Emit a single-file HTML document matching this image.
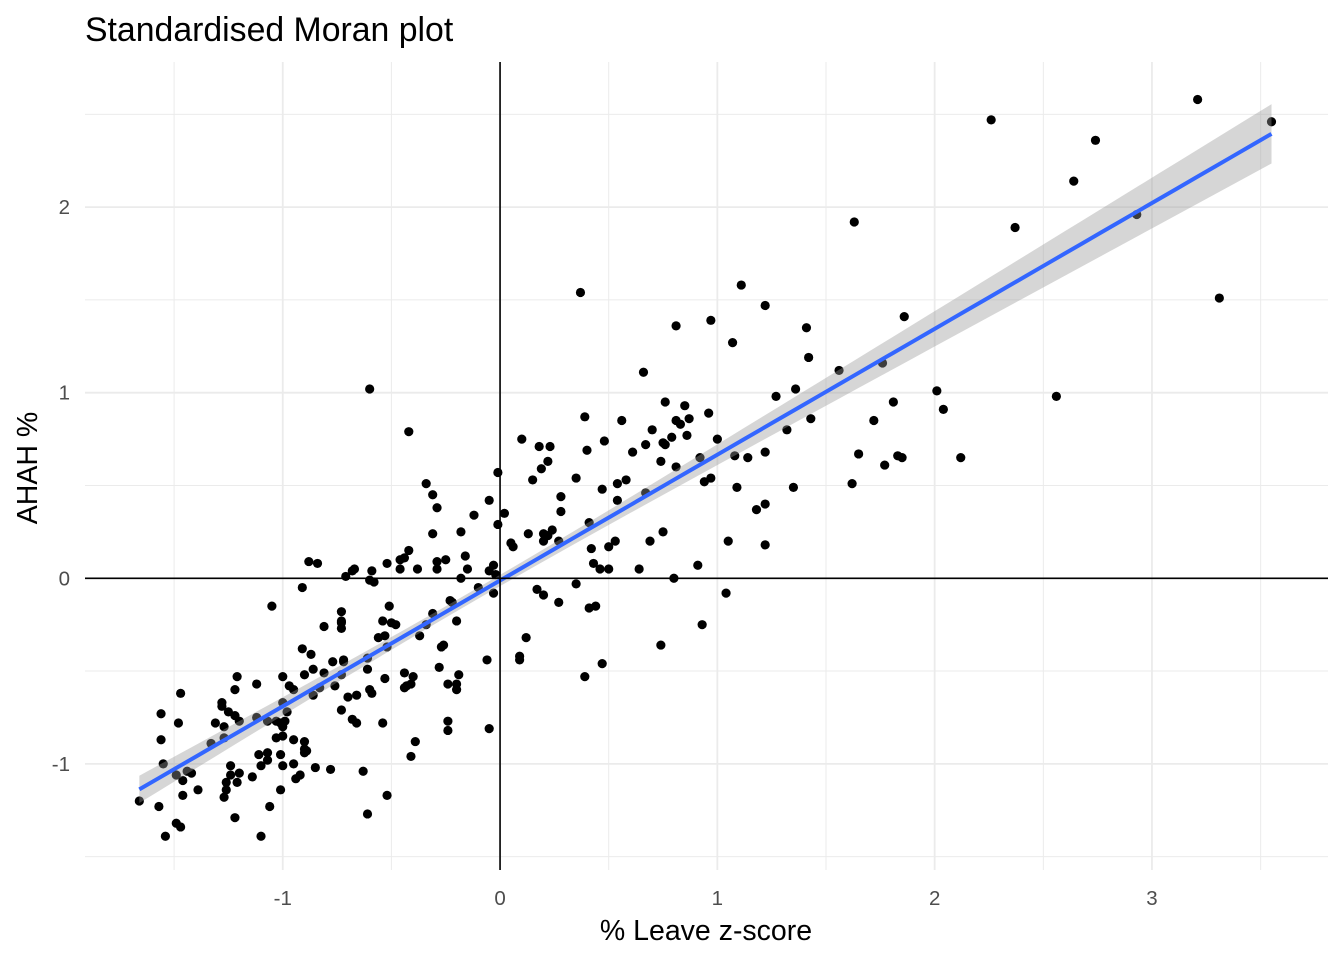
<!DOCTYPE html>
<html><head><meta charset="utf-8">
<style>
html,body{margin:0;padding:0;background:#fff;}
svg{display:block;font-family:"Liberation Sans",Arial,sans-serif;}
</style></head>
<body>
<svg id="chart" width="1344" height="960" viewBox="0 0 1344 960">
<text x="85" y="41" font-size="33.8" fill="#000">Standardised Moran plot</text>
<g id="grid"></g>
<g id="points"></g>
<g id="fit"></g>
<g id="axes"></g>
<text x="706" y="940" font-size="28.5" text-anchor="middle" fill="#000">% Leave z-score</text>
<text transform="translate(37,468) rotate(-90)" font-size="28.5" text-anchor="middle" fill="#000">AHAH %</text>
</svg>
<script>
const xs = [3.21,3.55,2.26,2.74,2.64,2.37,2.93,1.63,3.31,2.56,2.01,2.04,2.12,1.86,1.81,1.83,1.85,1.77,1.72,1.76,1.56,1.65,1.62,1.43,1.42,1.41,1.36,1.35,1.32,1.27,1.22,1.11,1.07,1.22,1.22,1.18,1.22,1.14,1.09,1.08,1.05,1.04,1.00,0.97,0.96,0.94,0.97,0.92,0.93,0.91,0.85,0.87,0.81,0.86,0.83,0.76,0.76,0.81,0.75,0.79,0.81,0.70,0.74,0.75,0.80,0.74,0.66,0.67,0.67,0.69,0.64,0.61,0.58,0.56,0.54,0.53,0.50,0.48,0.54,0.47,0.46,0.50,0.47,0.44,0.41,0.35,0.39,0.37,0.40,0.41,0.42,0.43,0.39,0.35,0.28,0.28,0.27,0.27,0.23,0.22,0.19,0.18,0.24,0.20,0.20,0.22,0.15,0.17,0.20,0.13,0.10,0.12,0.09,0.09,0.05,0.06,0.02,-0.01,-0.01,-0.05,-0.03,-0.02,-0.05,-0.03,-0.06,-0.05,-0.10,-0.12,-0.15,-0.16,-0.18,-0.18,-0.23,-0.25,-0.20,-0.19,-0.22,-0.20,-0.20,-0.24,-0.24,-0.29,-0.29,-0.29,-0.27,-0.28,-0.24,-0.26,-0.34,-0.31,-0.31,-0.31,-0.34,-0.38,-0.42,-0.42,-0.44,-0.37,-0.41,-0.40,-0.44,-0.39,-0.41,-0.44,-0.43,-0.46,-0.46,-0.48,-0.50,-0.52,-0.54,-0.52,-0.51,-0.53,-0.56,-0.53,-0.54,-0.52,-0.60,-0.58,-0.60,-0.59,-0.61,-0.61,-0.59,-0.60,-0.63,-0.61,-0.67,-0.68,-0.71,-0.66,-0.70,-0.68,-0.66,-0.73,-0.72,-0.73,-0.72,-0.73,-0.73,-0.73,-0.73,-0.77,-0.76,-0.78,-0.84,-0.88,-0.81,-0.91,-0.91,-0.87,-0.86,-0.90,-0.86,-0.83,-0.81,-0.85,-0.89,-0.90,-0.90,-0.90,-0.94,-0.92,-1.01,-1.00,-0.97,-0.95,-0.95,-0.95,-1.00,-1.00,-0.99,-0.98,-1.00,-1.05,-1.07,-1.07,-1.06,-1.10,-1.11,-1.12,-1.10,-1.14,-1.07,-1.01,-1.01,-1.03,-1.00,-1.03,-1.12,-1.21,-1.22,-1.22,-1.20,-1.25,-1.27,-1.27,-1.28,-1.31,-1.28,-1.20,-1.21,-1.24,-1.24,-1.26,-1.26,-1.27,-1.22,-1.33,-1.39,-1.42,-1.44,-1.46,-1.46,-1.47,-1.48,-1.49,-1.47,-1.49,-1.54,-1.56,-1.56,-1.55,-1.57,-1.66];
const ys = [2.58,2.46,2.47,2.36,2.14,1.89,1.96,1.92,1.51,0.98,1.01,0.91,0.65,1.41,0.95,0.66,0.65,0.61,0.85,1.16,1.12,0.67,0.51,0.86,1.19,1.35,1.02,0.49,0.80,0.98,1.47,1.58,1.27,0.68,0.40,0.37,0.18,0.65,0.49,0.66,0.20,-0.08,0.75,1.39,0.89,0.52,0.54,0.65,-0.25,0.07,0.93,0.86,1.36,0.77,0.83,0.95,0.72,0.60,0.73,0.76,0.85,0.80,0.63,0.25,0.00,-0.36,1.11,0.72,0.46,0.20,0.05,0.68,0.53,0.85,0.42,0.20,0.17,0.74,0.51,0.48,0.05,0.05,-0.46,-0.15,-0.16,0.54,0.87,1.54,0.69,0.30,0.16,0.08,-0.53,-0.03,0.44,0.36,0.20,-0.13,0.71,0.63,0.59,0.71,0.26,0.20,0.24,0.23,0.53,-0.06,-0.09,0.24,0.75,-0.32,-0.42,-0.44,0.19,0.17,0.35,0.57,0.29,0.42,0.07,0.02,0.04,-0.08,-0.44,-0.81,-0.05,0.34,0.05,0.12,0.25,0.00,-0.12,0.10,-0.23,-0.52,-0.13,-0.60,-0.57,-0.77,-0.82,0.38,0.09,0.05,-0.37,-0.48,-0.57,-0.36,0.51,0.45,0.24,-0.19,-0.25,0.05,0.79,0.15,0.11,-0.31,-0.57,-0.53,-0.51,-0.88,-0.96,-0.59,-0.58,0.05,0.10,-0.25,-0.24,0.08,-0.23,-0.37,-0.15,-0.31,-0.32,-0.54,-0.78,-1.17,1.02,-0.02,-0.01,0.04,-0.43,-0.49,-0.62,-0.60,-1.04,-1.27,0.05,0.04,0.01,-0.63,-0.64,-0.76,-0.78,-0.71,-0.45,-0.52,-0.44,-0.27,-0.23,-0.18,-0.24,-0.45,-0.58,-1.03,0.08,0.09,-0.26,-0.05,-0.38,-0.41,-0.49,-0.52,-0.63,-0.59,-0.51,-1.02,-0.93,-0.92,-0.94,-0.88,-1.08,-1.06,-1.14,-0.85,-0.58,-0.87,-1.00,-0.60,-0.53,-0.67,-0.77,-0.72,-1.01,-0.15,-0.77,-0.98,-1.23,-1.39,-0.95,-0.75,-1.01,-1.07,-0.94,-0.95,-0.78,-0.77,-0.80,-0.86,-0.57,-0.53,-0.60,-0.74,-0.77,-0.72,-0.80,-0.86,-0.67,-0.78,-0.69,-1.05,-1.10,-1.01,-1.06,-1.10,-1.14,-1.18,-1.29,-0.89,-1.14,-1.05,-1.04,-1.17,-1.09,-0.62,-0.78,-1.06,-1.34,-1.32,-1.39,-0.73,-0.87,-1.00,-1.23,-1.20];
const xTicks = [-1,0,1,2,3];
const xTickLabels = ["-1","0","1","2","3"];
const xMinor = [-1.5,-0.5,0.5,1.5,2.5,3.5];
const yTicks = [-1,0,1,2];
const yTickLabels = ["-1","0","1","2"];
const yMinor = [-1.5,-0.5,0.5,1.5,2.5];
const fitCoef = [-0.012, 0.678];      // intercept, slope
const fitRange = [-1.66, 3.55];
const bandCoef = [0.03, 0.043, -0.1]; // se base, growth, centre

const NS = "http://www.w3.org/2000/svg";
const L = 85, R = 1328, T = 62, B = 870;
const xMin = -1.91, xMax = 3.81, yMin = -1.572, yMax = 2.782;
const sx = v => L + (v - xMin) / (xMax - xMin) * (R - L);
const sy = v => B - (v - yMin) / (yMax - yMin) * (B - T);
function mk(tag, attrs, parent) {
  const e = document.createElementNS(NS, tag);
  for (const k in attrs) e.setAttribute(k, attrs[k]);
  parent.appendChild(e);
  return e;
}
const grid = document.getElementById('grid');
const axes = document.getElementById('axes');
xMinor.forEach(v => {
  const l = mk('line', {x1: sx(v), x2: sx(v), y1: T, y2: B, stroke: '#ebebeb', 'stroke-width': 1}, grid);
  
  
});
yMinor.forEach(v => {
  const l = mk('line', {x1: L, x2: R, y1: sy(v), y2: sy(v), stroke: '#ebebeb', 'stroke-width': 1}, grid);
  
  
});
xTicks.forEach((v, i) => {
  const l = mk('line', {x1: sx(v), x2: sx(v), y1: T, y2: B, stroke: '#ebebeb', 'stroke-width': 1.8}, grid);
  
  
  const t = mk('text', {x: sx(v), y: 905, 'font-size': 20.5, 'text-anchor': 'middle', fill: '#4d4d4d'}, axes);
  t.textContent = xTickLabels[i];
  
  
});
yTicks.forEach((v, i) => {
  const l = mk('line', {x1: L, x2: R, y1: sy(v), y2: sy(v), stroke: '#ebebeb', 'stroke-width': 1.8}, grid);
  
  
  const t = mk('text', {x: 70, y: sy(v) + 7, 'font-size': 20.5, 'text-anchor': 'end', fill: '#4d4d4d'}, axes);
  t.textContent = yTickLabels[i];
  
  
});
const vz = mk('line', {x1: sx(0), x2: sx(0), y1: T, y2: B, stroke: '#000', 'stroke-width': 1.6}, axes);


const hz = mk('line', {x1: L, x2: R, y1: sy(0), y2: sy(0), stroke: '#000', 'stroke-width': 1.6}, axes);



const pts = document.getElementById('points');
xs.forEach((x, i) => {
  const c = mk('circle', {cx: sx(x), cy: sy(ys[i]), r: 4.6, fill: '#000'}, pts);
  
  
});

const fit = document.getElementById('fit');
const N = 60, up = [], lo = [], ln = [];
for (let k = 0; k <= N; k++) {
  const x = fitRange[0] + (fitRange[1] - fitRange[0]) * k / N;
  const y = fitCoef[0] + fitCoef[1] * x;
  const hw = Math.sqrt(bandCoef[0] ** 2 + (bandCoef[1] * (x - bandCoef[2])) ** 2);
  up.push(sx(x) + ',' + sy(y + hw));
  lo.unshift(sx(x) + ',' + sy(y - hw));
  ln.push(sx(x) + ',' + sy(y));
}
const band = mk('polygon', {points: up.concat(lo).join(' '), fill: '#999', 'fill-opacity': 0.4}, fit);


const line = mk('polyline', {points: ln.join(' '), fill: 'none', stroke: '#3366FF', 'stroke-width': 4}, fit);


</script>
</body></html>
